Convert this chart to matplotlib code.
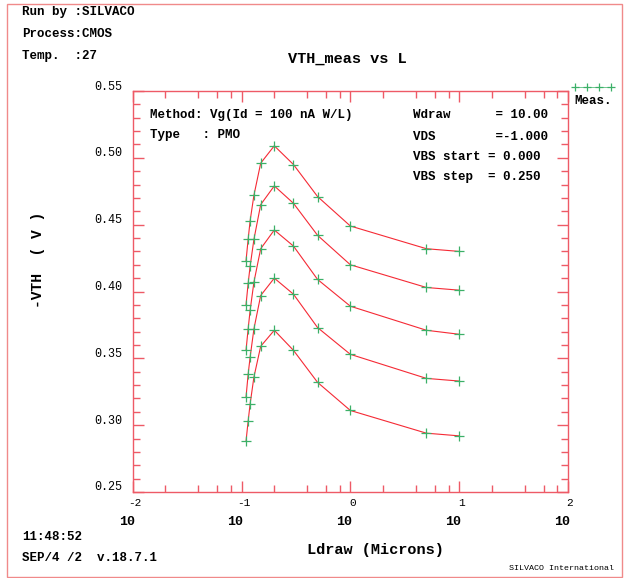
import numpy as np
import matplotlib
matplotlib.use("Agg")
import matplotlib.pyplot as plt
import matplotlib.transforms as mtransforms
from matplotlib.lines import Line2D
from matplotlib.patches import Rectangle
from matplotlib.ticker import FixedLocator, NullFormatter

# drawn length (microns) and measured -VTH for each VBS step
ldraw = [0.11, 0.115, 0.12, 0.13, 0.15, 0.2, 0.3, 0.5, 1.0, 5.0, 10.0]
vth_vbs_0 = [0.423, 0.439, 0.453, 0.472, 0.496, 0.509, 0.495, 0.471, 0.449, 0.432, 0.430]
vth_vbs_1 = [0.390, 0.406, 0.419, 0.439, 0.465, 0.479, 0.466, 0.442, 0.420, 0.403, 0.401]
vth_vbs_2 = [0.356, 0.372, 0.386, 0.407, 0.432, 0.446, 0.434, 0.409, 0.389, 0.371, 0.368]
vth_vbs_3 = [0.321, 0.338, 0.351, 0.372, 0.397, 0.410, 0.398, 0.373, 0.353, 0.335, 0.333]
vth_vbs_4 = [0.288, 0.303, 0.316, 0.336, 0.359, 0.371, 0.356, 0.332, 0.311, 0.294, 0.292]
curves = [vth_vbs_0, vth_vbs_1, vth_vbs_2, vth_vbs_3, vth_vbs_4]

x_exps = [-2, -1, 0, 1, 2]
y_ticks = [0.25, 0.30, 0.35, 0.40, 0.45, 0.50, 0.55]

W, H = 625, 578
axis_col = '#ee5a66'
line_col = '#f52a35'
mark_col = '#3cb068'
mono = 'Liberation Mono'

fig = plt.figure(figsize=(W / 100, H / 100), dpi=100)
ax = fig.add_axes([132.7 / W, 1 - 492 / H, (568 - 132.7) / W, (492 - 91) / H])

for v in curves:
    ax.plot(ldraw, v, color=line_col, lw=0.8, zorder=2)
    ax.plot(ldraw, v, '+', color=mark_col, ms=6.5, mew=0.9, zorder=3)

ax.set_xscale('log')
ax.set_xlim(1e-2, 1e2)
ax.set_ylim(0.25, 0.55)

ax.xaxis.set_major_locator(FixedLocator([10.0 ** e for e in x_exps]))
ax.xaxis.set_minor_locator(FixedLocator([m * 10.0 ** e for e in x_exps[:-1] for m in (2, 4, 6, 8)]))
ax.xaxis.set_major_formatter(NullFormatter())
ax.xaxis.set_minor_formatter(NullFormatter())
ax.yaxis.set_major_locator(FixedLocator(y_ticks))
ax.yaxis.set_minor_locator(FixedLocator(np.arange(0.25, 0.551, 0.01)))
ax.yaxis.set_major_formatter(NullFormatter())

ax.tick_params(which='both', direction='in', top=True, right=True, color=axis_col, width=1.0)
ax.tick_params(which='major', length=8)
ax.tick_params(which='minor', length=5)
for s in ax.spines.values():
    s.set_color(axis_col)
    s.set_linewidth(1.0)

# y tick labels, sitting a little above their ticks as in the original
ytr = mtransforms.blended_transform_factory(ax.transAxes, ax.transData)
for t in y_ticks:
    ax.text(0, t, f'{t:.2f}', transform=mtransforms.offset_copy(ytr, fig=fig, x=-10, y=4.5, units='dots'),
            ha='right', va='center', family=mono, fontsize=8.5)

# x tick labels: exponent above, base 10 below
xtr = mtransforms.blended_transform_factory(ax.transData, ax.transAxes)
for e in x_exps:
    ax.text(10.0 ** e, 0, f'{e}', transform=mtransforms.offset_copy(xtr, fig=fig, x=2, y=-11, units='dots'),
            ha='center', va='center', family=mono, fontsize=8)
    ax.text(10.0 ** e, 0, '10', transform=mtransforms.offset_copy(xtr, fig=fig, x=-6, y=-30, units='dots'),
            ha='center', va='center', family=mono, fontsize=9.5, weight='bold')


def ftext(x, y, s, **kw):
    kw.setdefault('family', mono)
    kw.setdefault('weight', 'bold')
    kw.setdefault('fontsize', 9)
    kw.setdefault('va', 'center')
    fig.text(x / W, 1 - y / H, s, **kw)


ftext(22, 12, 'Run by :SILVACO')
ftext(22, 34, 'Process:CMOS')
ftext(22, 56, 'Temp.  :27')
ftext(347, 59, 'VTH_meas vs L', fontsize=11, ha='center')

ftext(150, 115, 'Method: Vg(Id = 100 nA W/L)')
ftext(150, 135, 'Type   : PMO')
ftext(413, 115, 'Wdraw      = 10.00')
ftext(413, 137, 'VDS        =-1.000')
ftext(413, 157, 'VBS start = 0.000')
ftext(413, 177, 'VBS step  = 0.250')

ftext(38, 260, '-VTH  ( V )', fontsize=10.5, rotation=90, ha='center')
ftext(375, 550, 'Ldraw (Microns)', fontsize=11, ha='center')
ftext(22, 537, '11:48:52')
ftext(22, 558, 'SEP/4 /2  v.18.7.1')
ftext(614, 569, 'SILVACO International', fontsize=6, ha='right', weight='normal')

# legend sample
fig.add_artist(Line2D([575 / W, 587 / W, 599 / W, 611 / W], [1 - 87 / H] * 4, transform=fig.transFigure,
                      color=mark_col, lw=0.5, marker='+', ms=6, mew=0.9))
ftext(574, 101, 'Meas.', fontsize=9)

# outer frame
fig.add_artist(Rectangle((7 / W, 1 - 577 / H), (622 - 7) / W, (577 - 4) / H, transform=fig.transFigure,
                         fill=False, edgecolor='#f08a8a', lw=1.0))

fig.savefig('out.png', dpi=100)
